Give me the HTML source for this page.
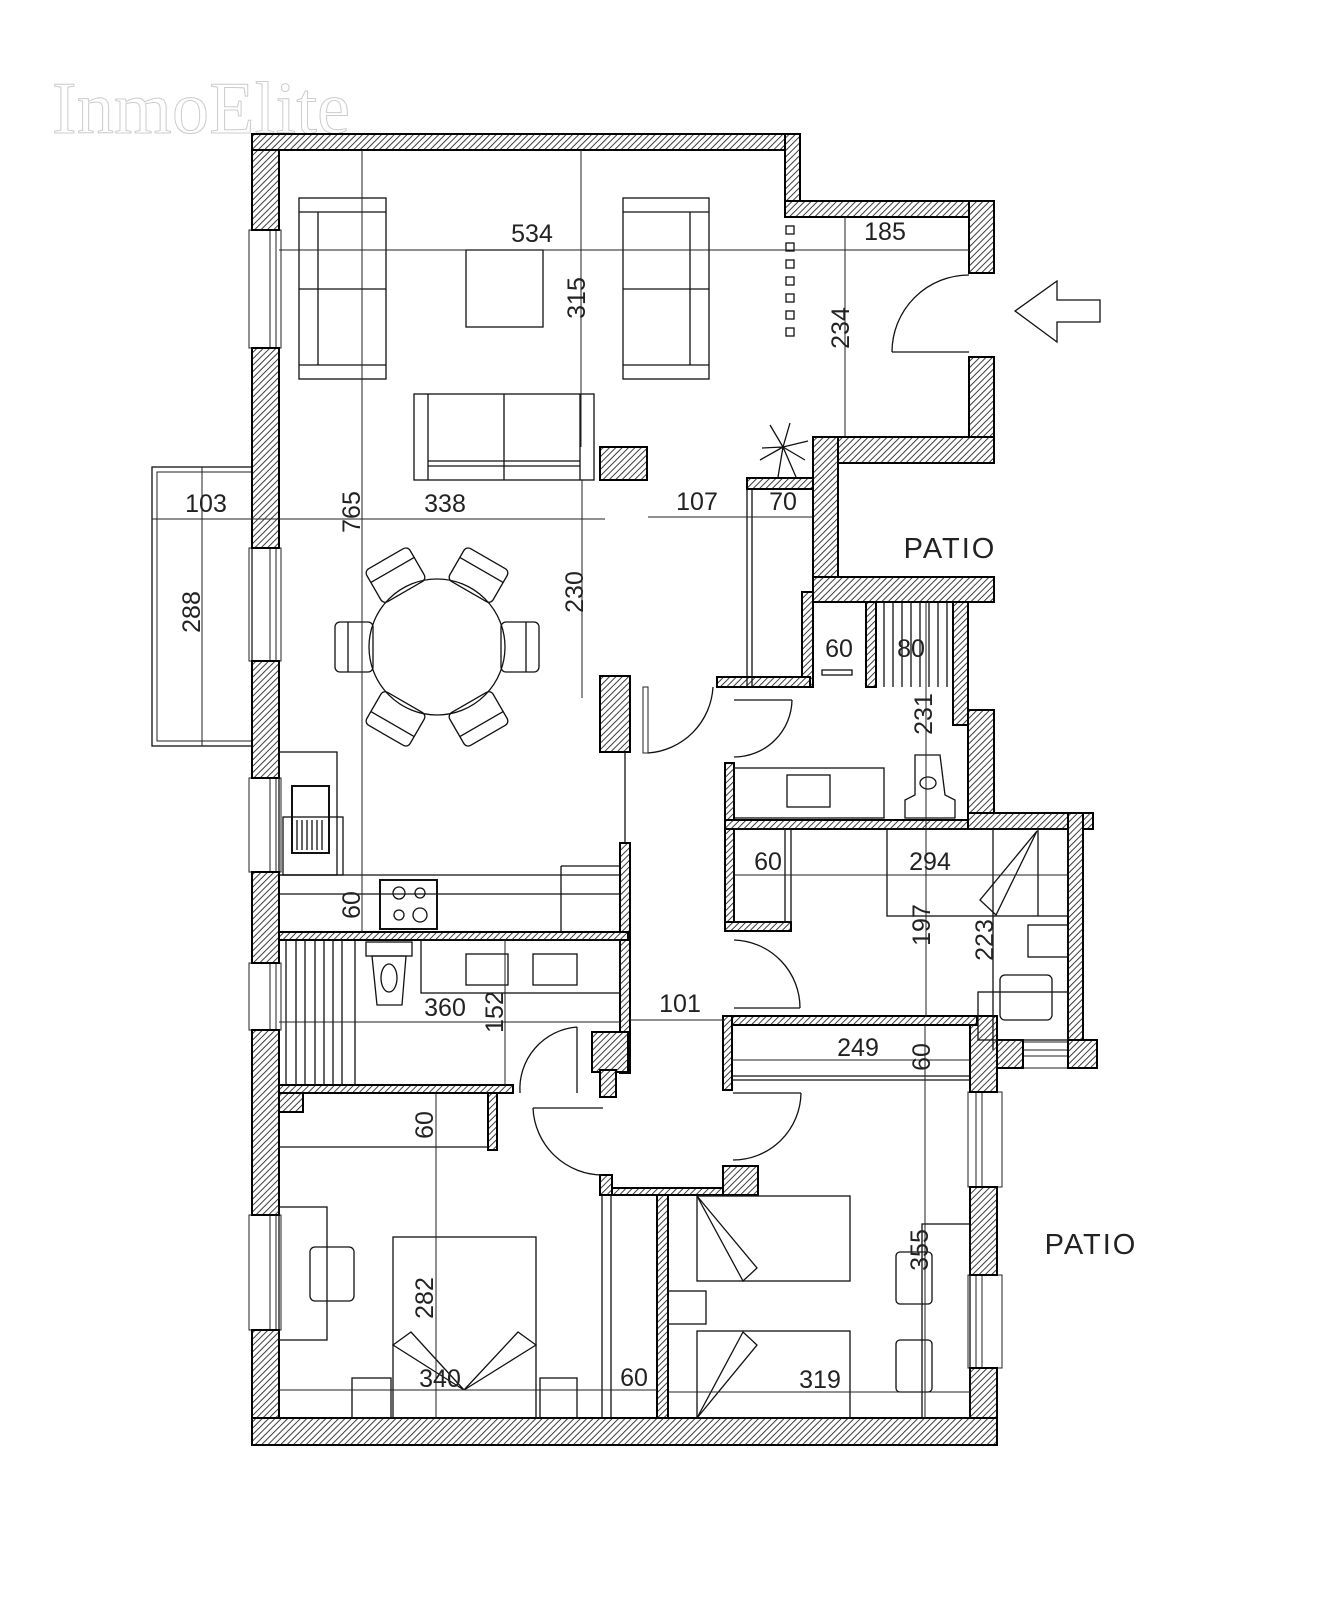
<!DOCTYPE html>
<html><head><meta charset="utf-8"><style>
html,body{margin:0;padding:0;background:#fff}
svg{display:block}
.w{fill:url(#h);stroke:#000;stroke-width:2}
.l{fill:none;stroke:#111;stroke-width:1.3}
.d{fill:none;stroke:#222;stroke-width:1}
.t{font-family:"Liberation Sans",sans-serif;font-size:25px;fill:#222}
.win{fill:#fff;stroke:#222;stroke-width:1}
</style></head><body>
<svg width="1338" height="1600" viewBox="0 0 1338 1600" xmlns="http://www.w3.org/2000/svg">
<defs>
<pattern id="h" width="4.5" height="4.5" patternUnits="userSpaceOnUse" patternTransform="rotate(45)">
<rect width="4.5" height="4.5" fill="#fff"/><line x1="0" y1="0" x2="0" y2="4.5" stroke="#333" stroke-width="1.9"/>
</pattern>
</defs>
<text x="52" y="133" font-family="Liberation Serif,serif" font-size="74" fill="#fff" stroke="#ccc" stroke-width="1" textLength="298">InmoElite</text>

<g class="win">
<rect x="249" y="230" width="32" height="118"/><line x1="270" y1="230" x2="270" y2="348"/><line x1="276" y1="230" x2="276" y2="348"/>
<rect x="249" y="548" width="32" height="113"/><line x1="270" y1="548" x2="270" y2="661"/><line x1="276" y1="548" x2="276" y2="661"/>
<rect x="249" y="778" width="32" height="94"/><line x1="270" y1="778" x2="270" y2="872"/><line x1="276" y1="778" x2="276" y2="872"/>
<rect x="249" y="963" width="32" height="67"/><line x1="270" y1="963" x2="270" y2="1030"/><line x1="276" y1="963" x2="276" y2="1030"/>
<rect x="249" y="1215" width="32" height="115"/><line x1="270" y1="1215" x2="270" y2="1330"/><line x1="276" y1="1215" x2="276" y2="1330"/>
<rect x="968" y="1092" width="34" height="95"/><line x1="976" y1="1092" x2="976" y2="1187"/><line x1="982" y1="1092" x2="982" y2="1187"/>
<rect x="968" y="1275" width="34" height="93"/><line x1="976" y1="1275" x2="976" y2="1368"/><line x1="982" y1="1275" x2="982" y2="1368"/>
<rect x="1023" y="1042" width="45" height="26"/><line x1="1023" y1="1050" x2="1068" y2="1050"/><line x1="1023" y1="1056" x2="1068" y2="1056"/>
</g>
<rect x="152" y="467" width="100" height="279" class="l"/><rect x="157" y="472" width="95" height="269" class="d"/>

<g class="w">
<rect x="252" y="134" width="27" height="96"/><rect x="252" y="348" width="27" height="200"/>
<rect x="252" y="661" width="27" height="117"/><rect x="252" y="872" width="27" height="91"/>
<rect x="252" y="1030" width="27" height="185"/><rect x="252" y="1330" width="27" height="115"/>
<rect x="252" y="134" width="548" height="16"/>
<rect x="785" y="134" width="15" height="83"/>
<rect x="785" y="201" width="209" height="16"/>
<rect x="969" y="201" width="25" height="72"/><rect x="969" y="357" width="25" height="106"/>
<rect x="813" y="437" width="181" height="26"/>
<rect x="813" y="437" width="25" height="165"/>
<rect x="813" y="577" width="181" height="25"/>
<rect x="802" y="592" width="11" height="95"/>
<rect x="866" y="602" width="10" height="85"/>
<rect x="953" y="602" width="15" height="123"/>
<rect x="968" y="710" width="26" height="119"/>
<rect x="968" y="813" width="125" height="16"/>
<rect x="1068" y="813" width="15" height="255"/>
<rect x="1068" y="1040" width="29" height="28"/>
<rect x="970" y="1016" width="27" height="76"/><rect x="997" y="1040" width="26" height="28"/>
<rect x="970" y="1187" width="27" height="88"/><rect x="970" y="1368" width="27" height="77"/>
<rect x="252" y="1418" width="745" height="27"/>
<rect x="747" y="478" width="66" height="11"/>
<rect x="600" y="447" width="47" height="33"/>
<rect x="600" y="676" width="30" height="76"/>
<rect x="717" y="677" width="93" height="10"/>
<rect x="725" y="763" width="9" height="168"/>
<rect x="725" y="820" width="243" height="9"/>
<rect x="725" y="922" width="66" height="9"/>
<rect x="723" y="1016" width="254" height="9"/>
<rect x="723" y="1016" width="9" height="74"/>
<rect x="620" y="843" width="10" height="230"/>
<rect x="279" y="932" width="349" height="8"/>
<rect x="592" y="1032" width="36" height="40"/><rect x="600" y="1070" width="16" height="27"/>
<rect x="279" y="1085" width="234" height="8"/>
<rect x="279" y="1093" width="24" height="19"/>
<rect x="488" y="1093" width="9" height="57"/>
<rect x="600" y="1188" width="158" height="7"/>
<rect x="723" y="1166" width="35" height="29"/>
<rect x="600" y="1175" width="12" height="20"/>
<rect x="657" y="1195" width="11" height="223"/>
</g>

<g class="l">
<line x1="892" y1="352" x2="969" y2="352"/><path d="M892,352 A77,77 0 0 1 969,275"/>
<rect x="643" y="687" width="5" height="66" class="d"/><path d="M648,753 A70,70 0 0 0 713,687"/>
<line x1="734" y1="700" x2="792" y2="700"/><path d="M792,700 A58,58 0 0 1 734,757"/>
<line x1="734" y1="1008" x2="800" y2="1008"/><path d="M734,940 A68,68 0 0 1 800,1008"/>
<line x1="733" y1="1093" x2="801" y2="1093"/><path d="M801,1093 A68,68 0 0 1 733,1160"/>
<line x1="577" y1="1027" x2="577" y2="1093"/><path d="M577,1027 A62,62 0 0 0 520,1093"/>
<line x1="533" y1="1108" x2="603" y2="1108"/><path d="M533,1108 A70,70 0 0 0 603,1175"/>
<line x1="625" y1="752" x2="625" y2="843"/>
</g>

<path d="M1015,311 L1057,281 L1057,300 L1100,300 L1100,322 L1057,322 L1057,342 Z" class="l"/>

<g class="l">
<rect x="299" y="198" width="87" height="181"/><line x1="299" y1="212" x2="386" y2="212"/><line x1="299" y1="365" x2="386" y2="365"/>
<line x1="318" y1="212" x2="318" y2="365"/><line x1="299" y1="289" x2="386" y2="289"/>
<rect x="623" y="198" width="86" height="181"/><line x1="623" y1="212" x2="709" y2="212"/><line x1="623" y1="365" x2="709" y2="365"/>
<line x1="690" y1="212" x2="690" y2="365"/><line x1="623" y1="289" x2="709" y2="289"/>
<rect x="466" y="250" width="77" height="77"/>
<rect x="414" y="394" width="180" height="86"/><line x1="428" y1="394" x2="428" y2="480"/><line x1="580" y1="394" x2="580" y2="480"/>
<line x1="428" y1="461" x2="580" y2="461"/><line x1="428" y1="466" x2="580" y2="466"/><line x1="504" y1="394" x2="504" y2="480"/>
<circle cx="437" cy="647" r="68"/>
<g id="ch"><rect x="335" y="622" width="38" height="50" rx="5"/><line x1="348" y1="622" x2="348" y2="672"/></g>
<use href="#ch" transform="rotate(60 437 647)"/><use href="#ch" transform="rotate(120 437 647)"/>
<use href="#ch" transform="rotate(180 437 647)"/><use href="#ch" transform="rotate(240 437 647)"/><use href="#ch" transform="rotate(300 437 647)"/>
<rect x="786" y="226" width="8" height="8"/><rect x="786" y="243" width="8" height="8"/><rect x="786" y="260" width="8" height="8"/>
<rect x="786" y="277" width="8" height="8"/><rect x="786" y="294" width="8" height="8"/><rect x="786" y="311" width="8" height="8"/><rect x="786" y="328" width="8" height="8"/>
<path d="M783,447 L778,477 M783,447 L796,477 M783,447 L762,448 M783,447 L808,441 M783,447 L770,425 M783,447 L790,423 M783,447 L760,460 M783,447 L805,460"/>
<line x1="747" y1="489" x2="747" y2="687"/><line x1="752" y1="489" x2="752" y2="687"/>
<rect x="279" y="752" width="58" height="123"/><rect x="283" y="817" width="60" height="58"/>
<rect x="292" y="786" width="37" height="67" stroke-width="2"/>
<path d="M297,820 v30 M302,820 v30 M307,820 v30 M312,820 v30 M317,820 v30 M322,820 v30"/>
<line x1="279" y1="875" x2="620" y2="875"/><line x1="279" y1="894" x2="620" y2="894"/>
<rect x="380" y="880" width="57" height="49" stroke-width="2"/>
<circle cx="399" cy="893" r="6"/><circle cx="420" cy="893" r="5"/><circle cx="399" cy="915" r="5"/><circle cx="420" cy="915" r="7"/>
<line x1="561" y1="866" x2="561" y2="932"/><line x1="561" y1="866" x2="620" y2="866"/>
<path d="M286,940 V1085 M296,940 V1085 M305,940 V1085 M315,940 V1085 M324,940 V1085 M333,940 V1085 M342,940 V1085"/>
<line x1="355" y1="940" x2="355" y2="1085"/>
<rect x="366" y="942" width="46" height="14"/><path d="M372,956 L406,956 L402,1005 L377,1005 Z"/><ellipse cx="389" cy="978" rx="8" ry="14"/>
<rect x="421" y="940" width="199" height="53"/><rect x="466" y="954" width="42" height="31"/><rect x="533" y="954" width="44" height="31"/>
<line x1="279" y1="1147" x2="488" y2="1147"/>
<rect x="279" y="1207" width="48" height="133"/>
<rect x="310" y="1247" width="44" height="54" rx="5"/>
<rect x="393" y="1237" width="143" height="181"/>
<path d="M393,1345 L411,1332 L464,1390 Z M536,1345 L518,1332 L464,1390 Z"/>
<rect x="352" y="1378" width="39" height="40"/><rect x="540" y="1378" width="37" height="40"/>
<line x1="602" y1="1195" x2="602" y2="1418"/><line x1="611" y1="1195" x2="611" y2="1418"/>
<rect x="697" y="1196" width="153" height="85"/>
<path d="M697,1196 L757,1268 L743,1281 Z"/>
<rect x="697" y="1331" width="153" height="87"/><path d="M697,1418 L743,1332 L757,1345 Z"/>
<rect x="668" y="1291" width="38" height="33"/>
<rect x="922" y="1224" width="48" height="194"/>
<rect x="896" y="1252" width="36" height="52" rx="4"/><rect x="896" y="1340" width="36" height="52" rx="4"/>
<line x1="732" y1="1076" x2="970" y2="1076"/><line x1="732" y1="1080" x2="970" y2="1080"/>
<rect x="822" y="670" width="30" height="5"/>
<path d="M884,602 V687 M893,602 V687 M902,602 V687 M911,602 V687 M920,602 V687 M929,602 V687 M938,602 V687 M947,602 V687"/>
<rect x="734" y="768" width="150" height="50"/><rect x="787" y="775" width="43" height="32"/>
<path d="M915,755 L940,755 L945,795 L955,800 L955,818 L905,818 L905,800 L915,795 Z"/><ellipse cx="928" cy="783" rx="8" ry="6"/>
<rect x="734" y="829" width="57" height="93"/><line x1="785" y1="829" x2="785" y2="922"/>
<rect x="887" y="829" width="181" height="87"/><line x1="993" y1="829" x2="993" y2="1050"/><line x1="1038" y1="829" x2="1038" y2="916"/>
<path d="M1037,831 L980,900 L996,915 Z"/>
<rect x="1028" y="925" width="40" height="32"/>
<rect x="978" y="992" width="90" height="48"/>
<rect x="1000" y="975" width="52" height="45" rx="5"/>
</g>

<g class="d">
<line x1="279" y1="250" x2="969" y2="250"/>
<line x1="581" y1="150" x2="581" y2="447"/>
<line x1="845" y1="217" x2="845" y2="437"/>
<line x1="362" y1="150" x2="362" y2="932"/>
<line x1="152" y1="519" x2="605" y2="519"/>
<line x1="202" y1="467" x2="202" y2="746"/>
<line x1="648" y1="517" x2="813" y2="517"/>
<line x1="582" y1="480" x2="582" y2="698"/>
<line x1="926" y1="602" x2="926" y2="1017"/>
<line x1="734" y1="875" x2="1068" y2="875"/>
<line x1="630" y1="1020" x2="725" y2="1020"/>
<line x1="279" y1="1022" x2="620" y2="1022"/>
<line x1="505" y1="940" x2="505" y2="1085"/>
<line x1="732" y1="1060" x2="970" y2="1060"/>
<line x1="925" y1="1025" x2="925" y2="1418"/>
<line x1="436" y1="1093" x2="436" y2="1418"/>
<line x1="279" y1="1390" x2="657" y2="1390"/>
<line x1="668" y1="1392" x2="970" y2="1392"/>
</g>

<g class="t">
<text x="532" y="242" text-anchor="middle">534</text>
<text x="885" y="240" text-anchor="middle">185</text>
<text transform="translate(585,298) rotate(-90)" text-anchor="middle">315</text>
<text transform="translate(849,328) rotate(-90)" text-anchor="middle">234</text>
<text transform="translate(360,512) rotate(-90)" text-anchor="middle">765</text>
<text x="206" y="512" text-anchor="middle">103</text>
<text transform="translate(200,612) rotate(-90)" text-anchor="middle">288</text>
<text x="445" y="512" text-anchor="middle">338</text>
<text x="697" y="510" text-anchor="middle">107</text>
<text x="783" y="510" text-anchor="middle">70</text>
<text transform="translate(583,592) rotate(-90)" text-anchor="middle">230</text>
<text x="839" y="657" text-anchor="middle">60</text>
<text x="911" y="657" text-anchor="middle">80</text>
<text transform="translate(932,714) rotate(-90)" text-anchor="middle">231</text>
<text x="768" y="870" text-anchor="middle">60</text>
<text x="930" y="870" text-anchor="middle">294</text>
<text transform="translate(930,925) rotate(-90)" text-anchor="middle">197</text>
<text transform="translate(993,940) rotate(-90)" text-anchor="middle">223</text>
<text x="680" y="1012" text-anchor="middle">101</text>
<text x="445" y="1016" text-anchor="middle">360</text>
<text transform="translate(503,1012) rotate(-90)" text-anchor="middle">152</text>
<text x="858" y="1056" text-anchor="middle">249</text>
<text transform="translate(930,1057) rotate(-90)" text-anchor="middle">60</text>
<text transform="translate(360,905) rotate(-90)" text-anchor="middle">60</text>
<text transform="translate(433,1125) rotate(-90)" text-anchor="middle">60</text>
<text transform="translate(433,1298) rotate(-90)" text-anchor="middle">282</text>
<text x="440" y="1387" text-anchor="middle">340</text>
<text x="634" y="1386" text-anchor="middle">60</text>
<text x="820" y="1388" text-anchor="middle">319</text>
<text transform="translate(928,1250) rotate(-90)" text-anchor="middle">355</text>
<text x="950" y="558" text-anchor="middle" font-size="29" letter-spacing="2">PATIO</text>
<text x="1091" y="1254" text-anchor="middle" font-size="29" letter-spacing="2">PATIO</text>
</g>
</svg>
</body></html>
